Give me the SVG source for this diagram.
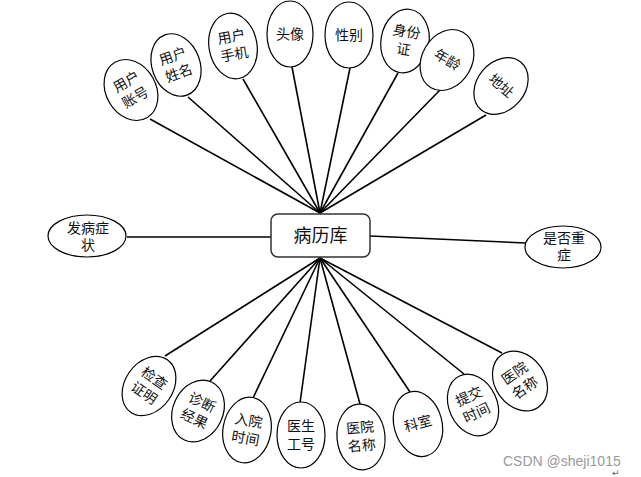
<svg xmlns="http://www.w3.org/2000/svg" width="641" height="477" viewBox="0 0 641 477">
<style>
.e{fill:#fff;stroke:#000;stroke-width:1.2}
.t{font-family:"Liberation Serif","Noto Sans CJK SC",serif;font-size:14px;fill:#111;text-anchor:middle;dominant-baseline:central}
.c line{stroke:#000;stroke-width:1.6}
</style>
<rect width="641" height="477" fill="#fff"/>
<g class="c" id="connectors">
<line x1="320" y1="213" x2="150" y2="119"/>
<line x1="320" y1="213" x2="188" y2="97"/>
<line x1="320" y1="213" x2="243" y2="79"/>
<line x1="320" y1="213" x2="292" y2="67"/>
<line x1="320" y1="213" x2="350" y2="68"/>
<line x1="320" y1="213" x2="398" y2="73"/>
<line x1="320" y1="213" x2="440" y2="90"/>
<line x1="320" y1="213" x2="486" y2="115"/>
<line x1="127" y1="237" x2="271" y2="237"/>
<line x1="370" y1="236" x2="526" y2="243"/>
<line x1="320" y1="258" x2="165" y2="356"/>
<line x1="320" y1="258" x2="210" y2="381"/>
<line x1="320" y1="258" x2="253" y2="398"/>
<line x1="320" y1="258" x2="300" y2="403"/>
<line x1="320" y1="258" x2="360" y2="404"/>
<line x1="320" y1="258" x2="410" y2="392"/>
<line x1="320" y1="258" x2="464" y2="374"/>
<line x1="320" y1="258" x2="502" y2="353"/>
</g>
<g id="hub"><rect x="271" y="214" width="99" height="43" rx="7" fill="#fff" stroke="#333" stroke-width="1.5"/><text x="320.5" y="236" class="t" style="font-size:18px">病历库</text></g>
<g id="n1" transform="translate(131,90) rotate(-30)"><ellipse class="e" rx="25" ry="32"/><text class="t" y="-9">用户</text><text class="t" y="9">账号</text></g>
<g id="n2" transform="translate(176,65) rotate(-20)"><ellipse class="e" rx="24" ry="32"/><text class="t" y="-9">用户</text><text class="t" y="9">姓名</text></g>
<g id="n3" transform="translate(233,46) rotate(-10)"><ellipse class="e" rx="24" ry="33"/><text class="t" y="-9">用户</text><text class="t" y="9">手机</text></g>
<g id="n4" transform="translate(290,34)"><ellipse class="e" rx="23" ry="33"/><text class="t" y="0">头像</text></g>
<g id="n5" transform="translate(349,35)"><ellipse class="e" rx="24" ry="33"/><text class="t" y="0">性别</text></g>
<g id="n6" transform="translate(405,41) rotate(10)"><ellipse class="e" rx="24" ry="32"/><text class="t" y="-9">身份</text><text class="t" y="9">证</text></g>
<g id="n7" transform="translate(447,60) rotate(30)"><ellipse class="e" rx="25" ry="32"/><text class="t" y="0">年龄</text></g>
<g id="n8" transform="translate(501,86) rotate(40)"><ellipse class="e" rx="24" ry="31"/><text class="t" y="0">地址</text></g>
<g id="n9"><ellipse class="e" cx="87" cy="236" rx="39" ry="21"/><text class="t" x="88" y="228">发病症</text><text class="t" x="88" y="245">状</text></g>
<g id="n10"><ellipse class="e" cx="563" cy="247" rx="38" ry="21"/><text class="t" x="564" y="238">是否重</text><text class="t" x="564" y="255">症</text></g>
<g id="n11" transform="translate(149,386) rotate(35)"><ellipse class="e" rx="24" ry="32"/><text class="t" y="-9">检查</text><text class="t" y="9">证明</text></g>
<g id="n12" transform="translate(198,411) rotate(25)"><ellipse class="e" rx="25" ry="32"/><text class="t" y="-9">诊断</text><text class="t" y="9">经果</text></g>
<g id="n13" transform="translate(247,430) rotate(10)"><ellipse class="e" rx="24" ry="33"/><text class="t" y="-9">入院</text><text class="t" y="9">时间</text></g>
<g id="n14" transform="translate(301,435)"><ellipse class="e" rx="24" ry="33"/><text class="t" y="-9">医生</text><text class="t" y="9">工号</text></g>
<g id="n15" transform="translate(361,437) rotate(-5)"><ellipse class="e" rx="24" ry="33"/><text class="t" y="-9">医院</text><text class="t" y="9">名称</text></g>
<g id="n16" transform="translate(418,424) rotate(-15)"><ellipse class="e" rx="24" ry="33"/><text class="t" y="0">科室</text></g>
<g id="n17" transform="translate(473,405) rotate(-25)"><ellipse class="e" rx="24" ry="32"/><text class="t" y="-9">提交</text><text class="t" y="9">时间</text></g>
<g id="n18" transform="translate(520,381) rotate(-35)"><ellipse class="e" rx="25" ry="32"/><text class="t" y="-9">医院</text><text class="t" y="9">名称</text></g>
<text x="503" y="466" style="font-family:'Liberation Sans',sans-serif;font-size:14px;fill:#999">CSDN @sheji1015</text>
<text x="612" y="476" style="font-family:'DejaVu Sans',sans-serif;font-size:9px;fill:#555">↵</text>
</svg>
